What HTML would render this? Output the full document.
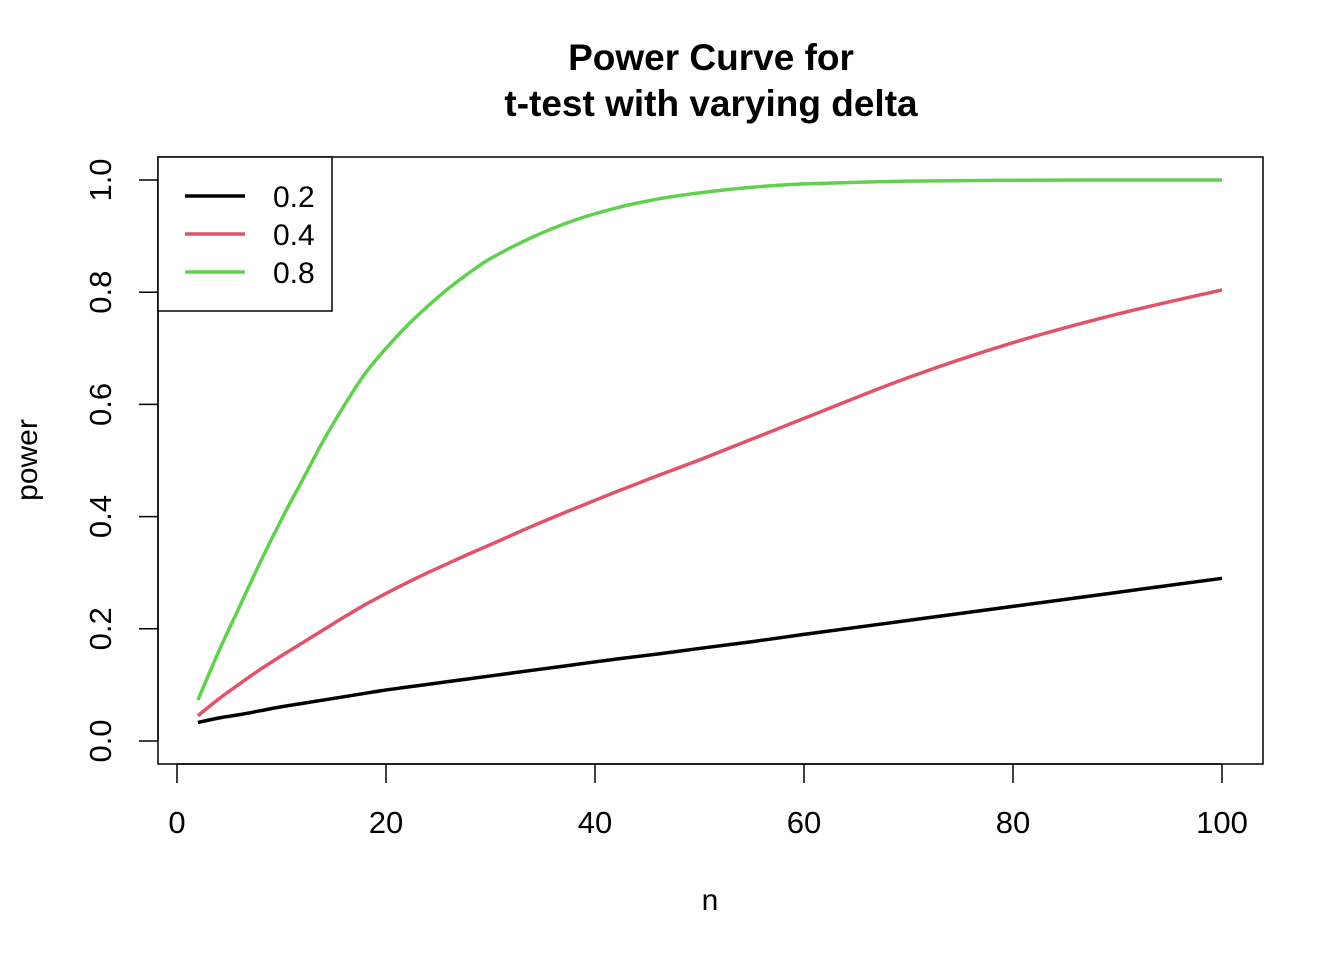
<!DOCTYPE html>
<html><head><meta charset="utf-8"><style>
html,body{margin:0;padding:0;background:#fff;}
svg{display:block;font-family:"Liberation Sans",sans-serif;}
</style></head><body>
<svg id="chart" width="1344" height="960" viewBox="0 0 1344 960">
<text x="711" y="70" text-anchor="middle" font-size="37" font-weight="bold">Power Curve for</text>
<text x="711" y="116" text-anchor="middle" font-size="37" font-weight="bold">t-test with varying delta</text>
<rect x="158" y="157" width="1105" height="607" fill="none" stroke="#000" stroke-width="1.5"/>
<g id="xaxis"></g>
<g id="yaxis"></g>
<text x="710" y="910" text-anchor="middle" font-size="30">n</text>
<text transform="translate(37,460) rotate(-90)" text-anchor="middle" font-size="30">power</text>
<g id="series"></g>
<g>
<rect x="158" y="157" width="174" height="154" fill="#fff" stroke="#000" stroke-width="1.5"/>
<line x1="185" y1="196" x2="245" y2="196" stroke="#000" stroke-width="3.5"/>
<line x1="185" y1="234" x2="245" y2="234" stroke="#DF536B" stroke-width="3.5"/>
<line x1="185" y1="272" x2="245" y2="272" stroke="#61D04F" stroke-width="3.5"/>
<text x="273" y="207" font-size="30">0.2</text>
<text x="273" y="245" font-size="30">0.4</text>
<text x="273" y="283" font-size="30">0.8</text>
</g>
</svg>
<script>
const nValues = [2,4,6,8,10,12,14,16,18,20,22,24,26,28,30,34,38,42,46,50,55,60,70,80,90,100];
const power02 = [0.033,0.041,0.047,0.054,0.061,0.067,0.073,0.079,0.085,0.091,0.096,0.101,0.106,0.111,0.116,0.126,0.136,0.146,0.155,0.165,0.177,0.190,0.215,0.240,0.265,0.290];
const power04 = [0.045,0.075,0.102,0.128,0.152,0.175,0.198,0.221,0.243,0.263,0.282,0.300,0.317,0.334,0.350,0.383,0.414,0.444,0.473,0.501,0.538,0.575,0.648,0.710,0.761,0.804];
const power08 = [0.073,0.160,0.240,0.320,0.395,0.465,0.535,0.598,0.655,0.700,0.740,0.775,0.807,0.835,0.860,0.898,0.928,0.950,0.966,0.977,0.987,0.993,0.998,0.9995,1.0,1.0];
const xTicks = [0,20,40,60,80,100];
const yTicks = [0,0.2,0.4,0.6,0.8,1.0];
const yTickLabels = ["0.0","0.2","0.4","0.6","0.8","1.0"];
const NS = "http://www.w3.org/2000/svg";
function xs(v){return 177 + v*(1222-177)/100;}
function ys(v){return 741 - v*(741-180);}
const xa = document.getElementById('xaxis');
const ya = document.getElementById('yaxis');
let l = document.createElementNS(NS,'line');
l.setAttribute('x1',xs(0));l.setAttribute('x2',xs(100));l.setAttribute('y1',764);l.setAttribute('y2',764);
l.setAttribute('stroke','#000');l.setAttribute('stroke-width','1.5');


xa.appendChild(l);
xTicks.forEach(t=>{
  const tk=document.createElementNS(NS,'line');
  tk.setAttribute('x1',xs(t));tk.setAttribute('x2',xs(t));tk.setAttribute('y1',764);tk.setAttribute('y2',783);
  tk.setAttribute('stroke','#000');tk.setAttribute('stroke-width','1.5');
  
  
  xa.appendChild(tk);
  const tx=document.createElementNS(NS,'text');
  tx.setAttribute('x',xs(t));tx.setAttribute('y',833);tx.setAttribute('text-anchor','middle');tx.setAttribute('font-size','31');
  tx.textContent=String(t);
  
  
  xa.appendChild(tx);
});
l = document.createElementNS(NS,'line');
l.setAttribute('x1',158);l.setAttribute('x2',158);l.setAttribute('y1',ys(0));l.setAttribute('y2',ys(1));
l.setAttribute('stroke','#000');l.setAttribute('stroke-width','1.5');


ya.appendChild(l);
yTicks.forEach((t,i)=>{
  const tk=document.createElementNS(NS,'line');
  tk.setAttribute('x1',139);tk.setAttribute('x2',158);tk.setAttribute('y1',ys(t));tk.setAttribute('y2',ys(t));
  tk.setAttribute('stroke','#000');tk.setAttribute('stroke-width','1.5');
  
  
  ya.appendChild(tk);
  const tx=document.createElementNS(NS,'text');
  tx.setAttribute('transform','translate(111,'+ys(t)+') rotate(-90)');
  tx.setAttribute('text-anchor','middle');tx.setAttribute('font-size','31');
  tx.textContent=yTickLabels[i];
  
  
  ya.appendChild(tx);
});
const sg=document.getElementById('series');
[[power02,'#000','series-delta-0.2'],[power04,'#DF536B','series-delta-0.4'],[power08,'#61D04F','series-delta-0.8']].forEach(s=>{
  const pts=nValues.map((n,i)=>[xs(n),ys(s[0][i])]);
  let d='M'+pts[0][0]+','+pts[0][1];
  for(let i=0;i<pts.length-1;i++){
    const p0=pts[Math.max(0,i-1)],p1=pts[i],p2=pts[i+1],p3=pts[Math.min(pts.length-1,i+2)];
    const c1=[p1[0]+(p2[0]-p0[0])/6,p1[1]+(p2[1]-p0[1])/6];
    const c2=[p2[0]-(p3[0]-p1[0])/6,p2[1]-(p3[1]-p1[1])/6];
    d+=' C'+c1[0]+','+c1[1]+' '+c2[0]+','+c2[1]+' '+p2[0]+','+p2[1];
  }
  const p=document.createElementNS(NS,'path');
  p.setAttribute('d',d);p.setAttribute('fill','none');p.setAttribute('stroke',s[1]);p.setAttribute('stroke-width','3.5');
  
  
  sg.appendChild(p);
});
</script>
</body></html>
